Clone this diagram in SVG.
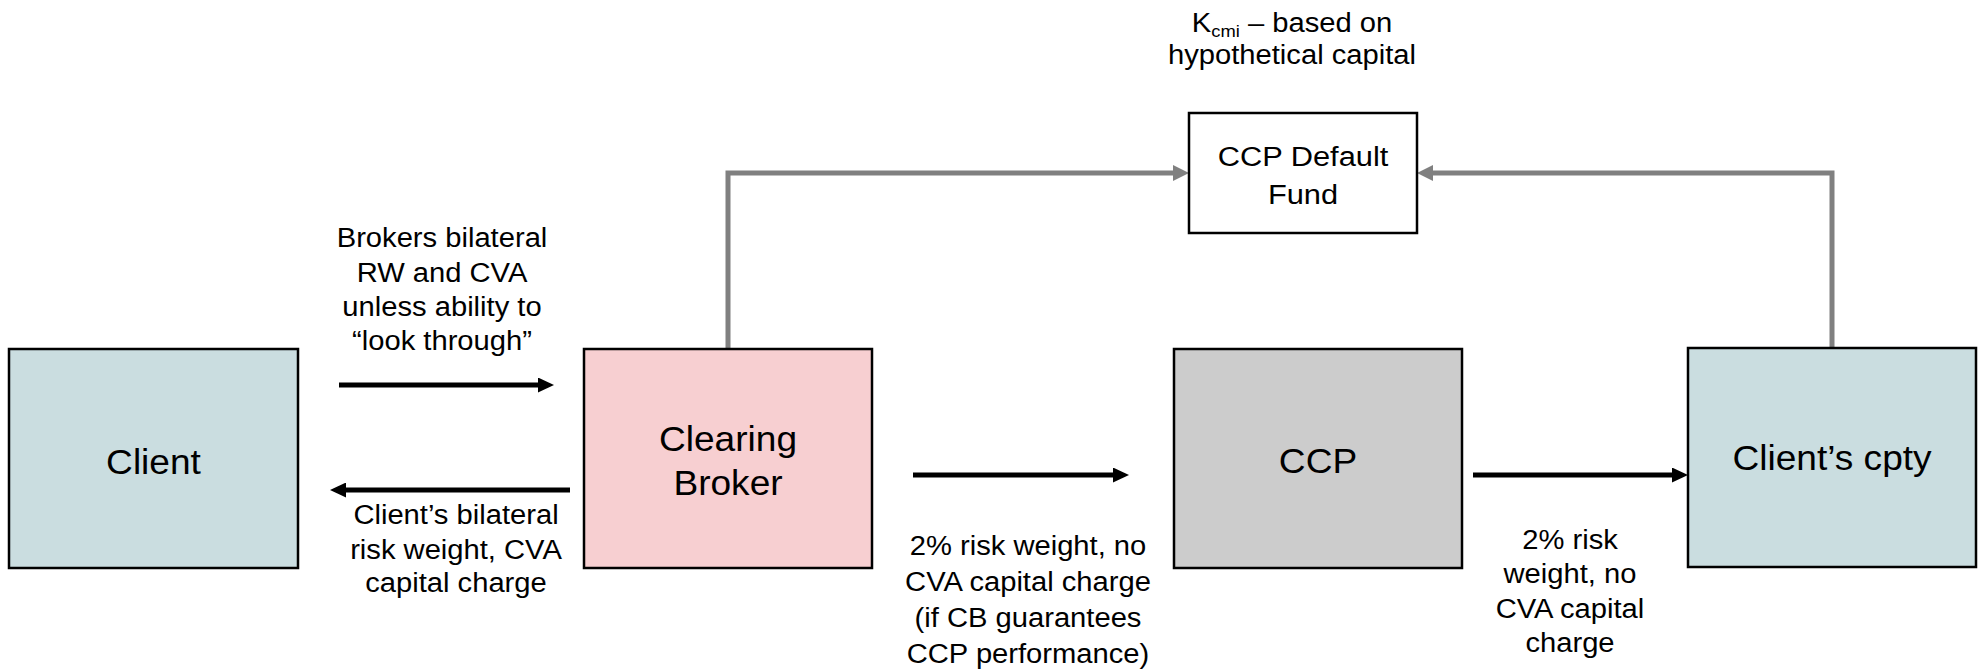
<svg xmlns="http://www.w3.org/2000/svg" width="1981" height="672" viewBox="0 0 1981 672">
<style>
text{font-family:"Liberation Sans",Arial,sans-serif;fill:#000;text-anchor:middle}
.node{font-size:35px}
.lab{font-size:27px}
.fund{font-size:28px}
.box{stroke:#000;stroke-width:2.5}
.blk{fill:none;stroke:#000;stroke-width:5}
.gry{fill:none;stroke:#808080;stroke-width:5}
</style>
<defs>
<marker id="ab" markerUnits="userSpaceOnUse" markerWidth="16" markerHeight="15" refX="2" refY="7.5" orient="auto">
<path d="M0,0 L16,7.5 L0,15 z" fill="#000"/>
</marker>
<marker id="ag" markerUnits="userSpaceOnUse" markerWidth="16" markerHeight="16" refX="2" refY="8" orient="auto">
<path d="M0,0 L16,8 L0,16 z" fill="#808080"/>
</marker>
</defs>
<rect width="1981" height="672" fill="#fff"/>
<g id="connectors">
<path class="blk" d="M339,385 H540" marker-end="url(#ab)"/>
<path class="blk" d="M570,490 H344" marker-end="url(#ab)"/>
<path class="blk" d="M913,475 H1115" marker-end="url(#ab)"/>
<path class="blk" d="M1473,475 H1674" marker-end="url(#ab)"/>
<path class="gry" d="M728,349 V173 H1175" marker-end="url(#ag)"/>
<path class="gry" d="M1832,348 V173 H1431" marker-end="url(#ag)"/>
</g>
<g id="client">
<rect class="box" x="9" y="349" width="289" height="219" fill="#cadde0"/>
<g transform="translate(153.5,0) scale(1.06,1)"><text class="node" x="0" y="474">Client</text></g>
</g>
<g id="clearing-broker">
<rect class="box" x="584" y="349" width="288" height="219" fill="#f7cfd1"/>
<g transform="translate(728,0) scale(1.06,1)"><text class="node" x="0" y="451">Clearing</text><text class="node" x="0" y="495">Broker</text></g>
</g>
<g id="ccp">
<rect class="box" x="1174" y="349" width="288" height="219" fill="#cccccc"/>
<g transform="translate(1318,0) scale(1.06,1)"><text class="node" x="0" y="473">CCP</text></g>
</g>
<g id="clients-cpty">
<rect class="box" x="1688" y="348" width="288" height="219" fill="#cadde0"/>
<g transform="translate(1832,0) scale(1.06,1)"><text class="node" x="0" y="470">Client’s cpty</text></g>
</g>
<g id="ccp-default-fund">
<rect class="box" x="1189" y="113" width="228" height="120" fill="#fff"/>
<g transform="translate(1303,0) scale(1.1,1)"><text class="fund" x="0" y="166">CCP Default</text><text class="fund" x="0" y="204">Fund</text></g>
</g>
<g id="labels">
<g transform="translate(442,0) scale(1.08,1)">
<text class="lab" x="0" y="247">Brokers bilateral</text>
<text class="lab" x="0" y="282">RW and CVA</text>
<text class="lab" x="0" y="316">unless ability to</text>
<text class="lab" x="0" y="350">“look through”</text>
</g>
<g transform="translate(456,0) scale(1.08,1)">
<text class="lab" x="0" y="524">Client’s bilateral</text>
<text class="lab" x="0" y="559">risk weight, CVA</text>
<text class="lab" x="0" y="592">capital charge</text>
</g>
<g transform="translate(1028,0) scale(1.08,1)">
<text class="lab" x="0" y="555">2% risk weight, no</text>
<text class="lab" x="0" y="591">CVA capital charge</text>
<text class="lab" x="0" y="627">(if CB guarantees</text>
<text class="lab" x="0" y="663">CCP performance)</text>
</g>
<g transform="translate(1570,0) scale(1.08,1)">
<text class="lab" x="0" y="549">2% risk</text>
<text class="lab" x="0" y="583">weight, no</text>
<text class="lab" x="0" y="618">CVA capital</text>
<text class="lab" x="0" y="652">charge</text>
</g>
<g transform="translate(1292,0) scale(1.08,1)">
<text class="lab" x="0" y="32">K<tspan font-size="17" dy="5">cmi</tspan><tspan dy="-5"> – based on</tspan></text>
<text class="lab" x="0" y="64">hypothetical capital</text>
</g>
</g>
</svg>
